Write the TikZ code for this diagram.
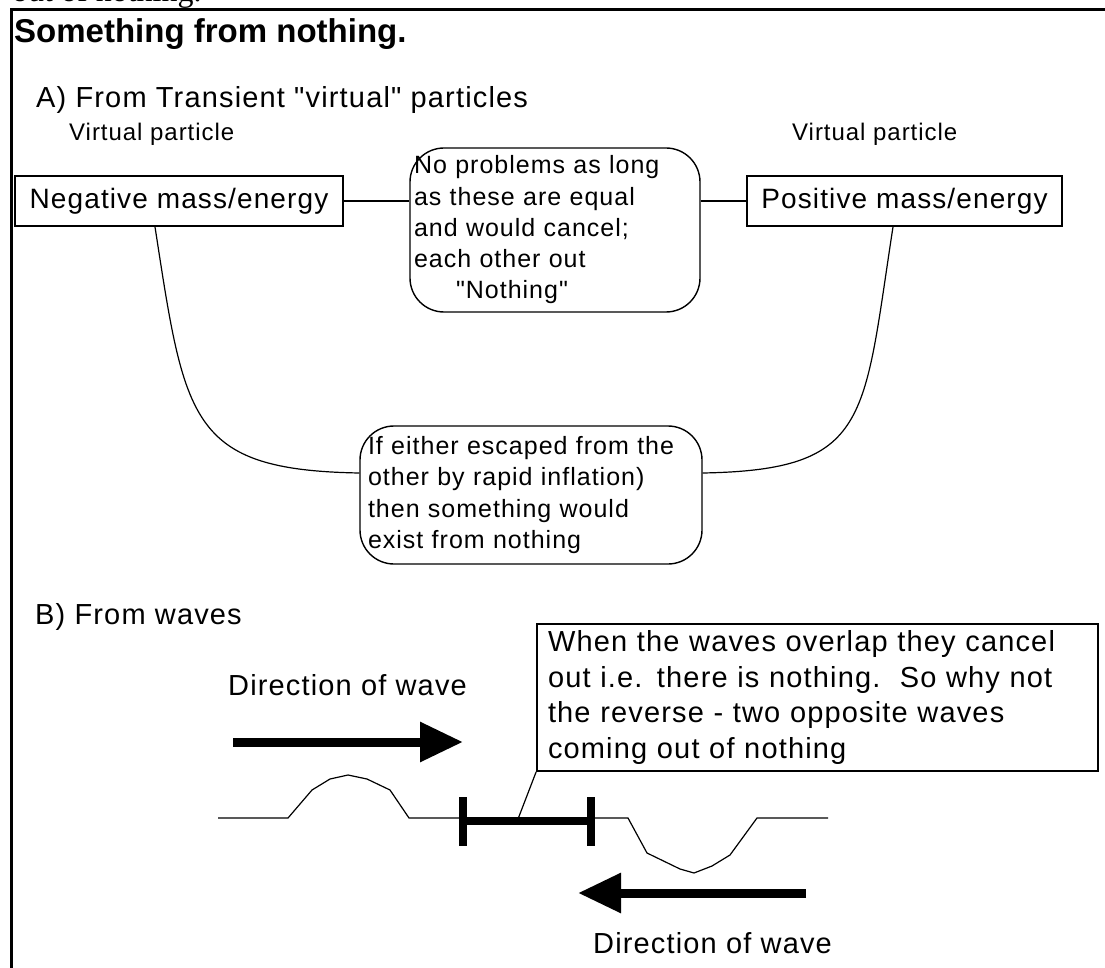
\documentclass[tikz,border=0pt]{standalone}
\usepackage{fontspec}
\setmainfont{Liberation Sans}[LetterSpace=4, Ligatures=TeXOff]
\newfontfamily\headfont{Liberation Sans}
\newfontfamily\capfont{Liberation Serif}
\usetikzlibrary{arrows.meta}
\newcommand\fsz[2]{\fontsize{#1}{#2}\selectfont}

\begin{document}
\begin{tikzpicture}[x=1pt,y=-1pt,
  lbl/.style={inner sep=0pt, anchor=base west},
  sqbox/.style={draw, line width=1.7pt, inner sep=0pt},
  rbox/.style={draw, line width=1.4pt, rounded corners=34pt, align=left},
  link/.style={line width=1.5pt},
  thinline/.style={line width=1.2pt},
  fatarrow/.style={line width=9pt, -{Triangle[length=43pt, width=38pt]}},
  tick/.style={line width=8pt},
]
\useasboundingbox (0,0) rectangle (1105,968);
\fill[white] (0,0) rectangle (1105,968);

% caption line of the page, cut by the top edge
\begin{scope}
  \clip (0,0) rectangle (1105,8.5);
  \node[lbl, font=\capfont\fsz{32}{32}] (cap) at (12,2) {out of nothing.};
\end{scope}

% frame
\draw[line width=2.5pt] (11.5,968) -- (11.5,9.5) -- (1105,9.5);

\node[lbl, font=\headfont\bfseries\fsz{33}{33}] (title) at (14,43) {Something from nothing.};

% ---- part A ----
\node[lbl, font=\fsz{29}{29}] (secA) at (36,108) {A) From Transient "virtual" particles};

\node[lbl, font=\fsz{24}{24}] (vpl) at (69,141) {Virtual particle};
\node[lbl, font=\fsz{24}{24}] (vpr) at (792,141) {Virtual particle};

\node[sqbox, minimum width=328pt, minimum height=50pt, font=\fsz{28}{28}] (neg) at (179,201) {Negative mass/energy};
\node[sqbox, minimum width=315pt, minimum height=50pt, font=\fsz{28}{28}] (pos) at (904.5,201) {Positive mass/energy};

\node[rbox, minimum width=290pt, minimum height=164pt, text width=282pt, inner sep=4pt,
      font=\fsz{25}{31.25}] (nb) at (555,230)
  {No problems as long\\as these are equal\\and would cancel;\\each other out\\\hspace*{42pt}"Nothing"};

\node[rbox, minimum width=342pt, minimum height=138pt, text width=326pt, inner sep=8pt,
      font=\fsz{25}{31.3}] (esc) at (531,495)
  {If either escaped from the\\other by rapid inflation)\\then something would\\exist from nothing};

\draw[link] (neg.east) -- (neg.east -| nb.west);
\draw[link] (nb.east |- pos.west) -- (pos.west);

\draw[thinline] ([xshift=-24pt]neg.south) .. controls +(30,194) and +(-170,-3) .. ([yshift=22pt]esc.west);
\draw[thinline] ([xshift=-11.5pt]pos.south) .. controls +(-30,194) and +(168,-3) .. ([yshift=22pt]esc.east);

% ---- part B ----
\node[lbl, font=\fsz{29}{29}] (secB) at (35,624) {B) From waves};

\node[lbl, font=\fsz{29}{29}] (dirR) at (228,695) {Direction of wave};
\coordinate (rA) at (233,742);
\coordinate (rB) at (463,742);
\draw[fatarrow] (rA) -- (rB);

% forward pulse
\draw[thinline] (218,818) -- (288,818) -- (312,790) -- (330,779) -- (348,775) -- (367,779)
  -- (390,790) -- (409,818) -- (463,818);

% overlap span
\coordinate (bl) at (463,821);
\coordinate (br) at (591,821);
\draw[tick] (bl) -- (br);
\draw[tick] (463,797) -- (463,846);
\draw[tick] (591,797) -- (591,846);

% backward pulse
\draw[thinline] (591,818) -- (628,818) -- (647,853) -- (680,869) -- (694,873) -- (712,866)
  -- (730,855) -- (757,818) -- (828,818);

\coordinate (lA) at (806,893);
\coordinate (lB) at (578,893);
\draw[fatarrow] (lA) -- (lB);
\node[lbl, font=\fsz{29}{29}] (dirL) at (593,953) {Direction of wave};

\node[sqbox, minimum width=561pt, minimum height=147pt, text width=539pt, inner xsep=11pt,
      align=left, font=\fsz{29}{35.7}] (ov) at (817.5,697.5)
  {When the waves overlap they cancel\\out i.e. there is nothing.\ \ So why not\\the reverse - two opposite waves\\coming out of nothing};

\coordinate (tip) at (518,819);
\draw[thinline] (tip) -- (ov.south west);
\end{tikzpicture}
\end{document}
